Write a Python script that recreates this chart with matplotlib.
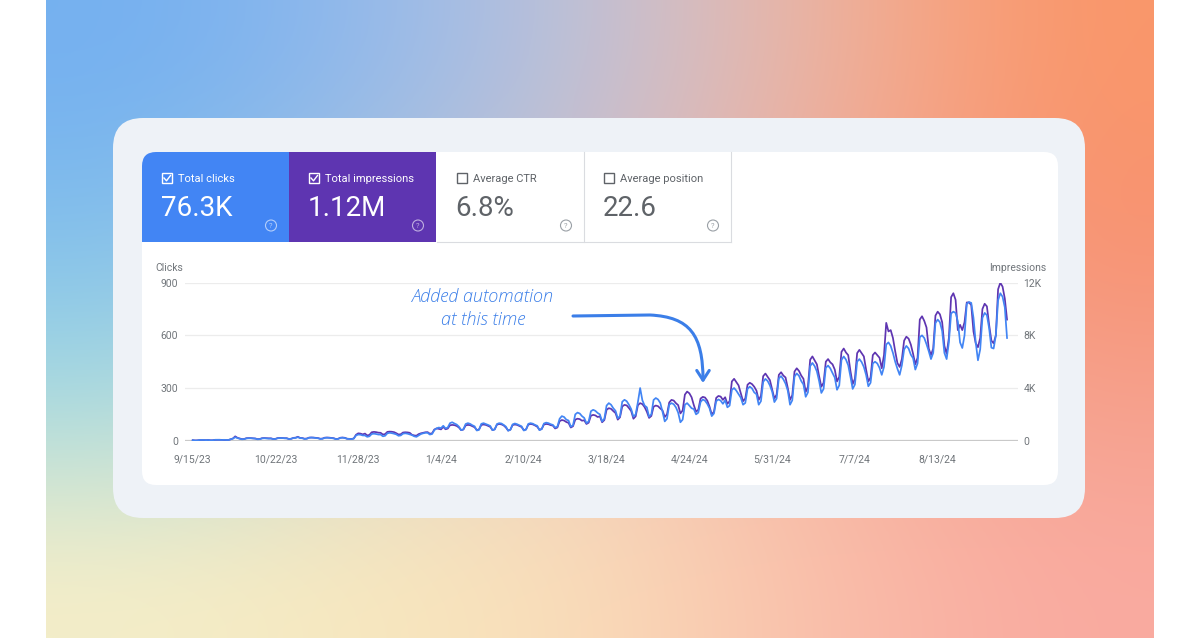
import numpy as np
import pandas as pd
import matplotlib.pyplot as plt
from matplotlib.patches import FancyBboxPatch, Rectangle, Circle, FancyArrowPatch
from matplotlib.path import Path

plt.rcParams['font.family'] = ['Roboto', 'DejaVu Sans']

# daily values, first day 9/15/23 (one row per week, Fri..Thu)
start_date = '2023-09-15'
clicks = [
    3, 1, 1, 4, 4, 4, 3,
    4, 2, 2, 5, 5, 5, 4,
    5, 4, 4, 8, 12, 20, 15,
    11, 8, 9, 13, 14, 14, 13,
    12, 8, 9, 13, 14, 13, 12,
    12, 9, 10, 14, 15, 15, 14,
    13, 10, 11, 15, 16, 20, 15,
    14, 10, 11, 17, 18, 17, 15,
    14, 10, 11, 16, 17, 16, 15,
    13, 9, 10, 16, 17, 15, 11,
    10, 9, 12, 30, 35, 34, 30,
    30, 22, 25, 38, 40, 38, 35,
    35, 25, 28, 42, 45, 43, 40,
    36, 28, 30, 40, 42, 40, 36,
    32, 25, 22, 30, 38, 42, 45,
    45, 35, 38, 60, 70, 75, 72,
    85, 70, 75, 100, 105, 98, 92,
    80, 60, 65, 95, 100, 96, 88,
    82, 58, 62, 96, 100, 95, 90,
    84, 60, 64, 95, 100, 98, 90,
    80, 57, 62, 93, 98, 94, 88,
    82, 58, 63, 96, 100, 97, 90,
    85, 60, 66, 98, 103, 100, 94,
    90, 75, 80, 125, 140, 135, 120,
    115, 80, 88, 150, 160, 155, 140,
    130, 100, 110, 168, 176, 170, 158,
    150, 110, 125, 200, 214, 205, 185,
    170, 128, 140, 222, 233, 225, 205,
    180, 137, 150, 220, 300, 230, 200,
    190, 137, 150, 232, 243, 235, 215,
    165, 110, 125, 205, 214, 208, 190,
    160, 105, 120, 205, 214, 200, 185,
    180, 150, 160, 220, 235, 228, 210,
    185, 140, 155, 225, 235, 228, 210,
    230, 190, 200, 290, 300, 285, 265,
    245, 205, 215, 295, 308, 298, 275,
    265, 205, 225, 335, 352, 340, 315,
    280, 220, 240, 355, 368, 350, 325,
    285, 205, 230, 365, 383, 370, 340,
    320, 250, 275, 425, 443, 425, 395,
    340, 272, 295, 415, 428, 412, 385,
    360, 290, 315, 460, 480, 462, 430,
    365, 295, 320, 450, 465, 448, 420,
    375, 310, 330, 440, 450, 440, 415,
    375, 420, 548, 560, 540, 500, 450,
    410, 375, 430, 520, 540, 525, 490,
    470, 405, 440, 590, 600, 585, 550,
    510, 465, 500, 670, 690, 675, 625,
    500, 465, 560, 725, 735, 728, 680,
    560, 528, 600, 780, 790, 785, 700,
    560, 458, 520, 700, 728, 715, 640,
    530, 525, 600, 800, 840, 820, 760,
    585,
]
impressions = [
    40, 20, 25, 45, 50, 48, 42,
    55, 30, 35, 65, 70, 68, 60,
    60, 50, 55, 110, 170, 330, 220,
    170, 120, 130, 190, 200, 195, 180,
    165, 120, 130, 190, 200, 190, 180,
    180, 130, 140, 200, 210, 205, 190,
    190, 130, 145, 215, 230, 300, 210,
    200, 150, 165, 230, 240, 235, 220,
    200, 150, 160, 228, 240, 232, 215,
    190, 130, 145, 225, 240, 220, 150,
    140, 130, 170, 450, 560, 540, 480,
    540, 400, 440, 640, 670, 650, 610,
    600, 470, 500, 670, 690, 680, 650,
    570, 470, 490, 620, 640, 630, 600,
    450, 400, 380, 500, 560, 600, 640,
    650, 530, 560, 850, 930, 900, 860,
    1050, 870, 920, 1170, 1200, 1180, 1120,
    1000, 800, 850, 1160, 1200, 1180, 1100,
    1020, 800, 860, 1190, 1230, 1200, 1130,
    1050, 800, 870, 1220, 1270, 1240, 1160,
    1000, 770, 840, 1190, 1230, 1200, 1120,
    1040, 800, 860, 1220, 1270, 1240, 1160,
    1060, 830, 890, 1230, 1270, 1250, 1180,
    1150, 930, 1000, 1480, 1570, 1530, 1420,
    1350, 1000, 1100, 1600, 1670, 1640, 1520,
    1550, 1270, 1370, 1900, 1960, 1920, 1800,
    1850, 1400, 1570, 2350, 2470, 2420, 2250,
    2100, 1600, 1780, 2600, 2720, 2680, 2480,
    2250, 1670, 1850, 2700, 2850, 2780, 2550,
    2200, 1730, 1880, 2580, 2670, 2620, 2450,
    2300, 1800, 2000, 2900, 3100, 3050, 2850,
    2700, 2070, 2300, 3500, 3730, 3600, 3300,
    2700, 2200, 2350, 3200, 3330, 3280, 3050,
    2600, 2000, 2200, 3250, 3400, 3350, 3100,
    3300, 2800, 3000, 4500, 4700, 4450, 4200,
    3600, 3000, 3200, 4250, 4400, 4300, 4100,
    3800, 3100, 3400, 4900, 5100, 4850, 4600,
    3900, 3200, 3500, 5000, 5200, 4950, 4800,
    4000, 3100, 3450, 5250, 5500, 5300, 4950,
    4700, 3700, 4100, 6150, 6400, 6100, 5800,
    4900, 4100, 4400, 6000, 6200, 5950, 5800,
    5400, 4500, 4850, 6750, 7000, 6700, 6500,
    5300, 4300, 4700, 6650, 6900, 6650, 6400,
    5400, 4500, 4800, 6500, 6700, 6500, 6300,
    5500, 6500, 8950, 8300, 8400, 7800, 6800,
    5900, 5600, 6200, 7600, 7900, 7750, 7300,
    6600, 5800, 6300, 9200, 9450, 9100, 8600,
    7000, 6500, 7000, 9500, 9800, 9600, 9000,
    7200, 6600, 7800, 10900, 11200, 10700, 8400,
    8800, 8400, 9000, 10500, 10500, 10300, 8300,
    7400, 7100, 7800, 10000, 10400, 10200, 8800,
    7600, 7400, 8000, 11500, 12000, 11700, 10800,
    9200,
]
date_labels = ['9/15/23', '10/22/23', '11/28/23', '1/4/24', '2/10/24',
               '3/18/24', '4/24/24', '5/31/24', '7/7/24', '8/13/24']
click_ticks = [0, 300, 600, 900]
impression_ticks = [0, 4000, 8000, 12000]
impression_tick_labels = ['0', '4K', '8K', '12K']

tile_names = ['Total clicks', 'Total impressions', 'Average CTR', 'Average position']
tile_values = ['76.3K', '1.12M', '6.8%', '22.6']

BLUE = '#4285f4'
PURPLE = '#5e35b1'
GREY_TXT = '#5f6368'
W, H = 1200, 638

fig = plt.figure(figsize=(12, 6.38), dpi=100, facecolor='white')

# background + cards, in pixel coordinates
bg = fig.add_axes([0, 0, 1, 1])
bg.set_axis_off()
grad = np.array([
    [(116, 176, 240), (148, 186, 236), (195, 195, 215), (240, 180, 160), (250, 150, 105)],
    [(130, 192, 236), (172, 196, 220), (212, 192, 200), (245, 170, 150), (248, 145, 112)],
    [(165, 220, 225), (222, 216, 200), (240, 205, 190), (245, 180, 160), (245, 160, 140)],
    [(246, 238, 200), (248, 232, 190), (250, 220, 185), (250, 190, 170), (250, 170, 160)],
]) / 255.0
bg.imshow(grad, extent=(46, 1154, H, 0), interpolation='bicubic', aspect='auto')
bg.set_xlim(0, W)
bg.set_ylim(H, 0)

bg.add_patch(FancyBboxPatch((113, 118), 972, 400, boxstyle='round,pad=0,rounding_size=30',
                            fc='#eef2f7', ec='none'))
card = FancyBboxPatch((142, 152), 916, 333, boxstyle='round,pad=0,rounding_size=14',
                      fc='white', ec='none')
bg.add_patch(card)

tile_x = [142, 289, 437, 584]
tile_fill = [BLUE, PURPLE, 'white', 'white']
for i in range(4):
    x0 = tile_x[i]
    r = Rectangle((x0, 152), 147, 90, fc=tile_fill[i], ec='none')
    bg.add_patch(r)
    r.set_clip_path(card)
    selected = i < 2
    fg = 'white' if selected else GREY_TXT
    # checkbox
    bg.add_patch(Rectangle((x0 + 20, 173), 10, 10, fc='none', ec=fg, lw=1.0))
    if selected:
        bg.plot([x0 + 22, x0 + 24.5, x0 + 28.5], [178, 180.8, 175.5], color=fg, lw=1.0)
    bg.text(x0 + 36, 178.5, tile_names[i], color=fg, fontsize=8, va='center', ha='left')
    bg.text(x0 + 18.5, 208.5, tile_values[i], color=fg, fontsize=20, va='center', ha='left')
    # help icon
    icon_col = (1, 1, 1, 0.6) if selected else '#9aa0a6'
    bg.add_patch(Circle((x0 + 129, 225.5), 5.5, fc='none', ec=icon_col, lw=0.8))
    bg.text(x0 + 129, 226, '?', color=icon_col, fontsize=5.5, ha='center', va='center')

for xv in [584, 731]:
    bg.plot([xv, xv], [152, 242], color='#dadce0', lw=0.8)
bg.plot([437, 731], [242, 242], color='#dadce0', lw=0.8)

# chart
x0_px, x1_px, y0_px, y1_px = 185, 1018, 440.7, 282.7
ax = fig.add_axes([x0_px / W, 1 - y0_px / H, (x1_px - x0_px) / W, (y0_px - y1_px) / H])
ax2 = ax.twinx()
ax.set_zorder(ax2.get_zorder() + 1)
for a in (ax, ax2):
    a.patch.set_alpha(0)
    for s in a.spines.values():
        s.set_visible(False)

start = pd.Timestamp(start_date)
dates_c = pd.date_range(start, periods=len(clicks), freq='D')
dates_i = pd.date_range(start, periods=len(impressions), freq='D')

ax.set_ylim(0, 900)
ax2.set_ylim(0, 12000)
ax.set_yticks(click_ticks)
ax.set_yticklabels([str(v) for v in click_ticks])
ax2.set_yticks(impression_ticks)
ax2.set_yticklabels(impression_tick_labels)
ax2.grid(axis='y', color='#ececec', lw=0.9)
ax2.axhline(0, color='#c4c4c4', lw=1.6, zorder=1)

ax2.plot(dates_i, impressions, color=PURPLE, lw=1.25, zorder=3)
ax.plot(dates_c, clicks, color=BLUE, lw=1.25, zorder=3)

tick_dates = pd.to_datetime(date_labels, format='%m/%d/%y')
ax.set_xticks(tick_dates)
ax.set_xticklabels(date_labels)
ax.set_xlim(start - pd.Timedelta(days=3.44), start + pd.Timedelta(days=368.9))
ax.tick_params(axis='x', length=0, pad=10, labelsize=7.5, labelcolor='#70757a')
ax.tick_params(axis='y', length=0, pad=5, labelsize=7.5, labelcolor='#70757a')
ax2.tick_params(axis='y', length=0, pad=4, labelsize=7.5, labelcolor='#70757a')

# overlay for labels and annotation
ov = fig.add_axes([0, 0, 1, 1])
ov.set_axis_off()
ov.patch.set_alpha(0)
ov.set_xlim(0, W)
ov.set_ylim(H, 0)
ov.text(155, 268, 'Clicks', color='#70757a', fontsize=7.5, ha='left', va='center')
ov.text(1046, 268, 'Impressions', color='#70757a', fontsize=7.5, ha='right', va='center')

ann_col = '#3b7ee8'
ov.text(483, 297, 'Added automation', color=ann_col, fontsize=13, ha='center', va='center',
        family=['Open Sans', 'DejaVu Sans'], style='italic', fontweight='light')
ov.text(483, 320, 'at this time', color=ann_col, fontsize=13, ha='center', va='center',
        family=['Open Sans', 'DejaVu Sans'], style='italic', fontweight='light')

arrow_path = Path([(573, 316), (650, 315), (690, 317), (703, 335), (703, 383)],
                  [Path.MOVETO, Path.LINETO, Path.CURVE4, Path.CURVE4, Path.CURVE4])
ov.add_patch(FancyArrowPatch(path=arrow_path, arrowstyle='->,head_length=7,head_width=4.5',
                             color=ann_col, lw=2.2, transform=ov.transData,
                             joinstyle='round', capstyle='round'))

fig.savefig('out.png', dpi=100, facecolor='white')
